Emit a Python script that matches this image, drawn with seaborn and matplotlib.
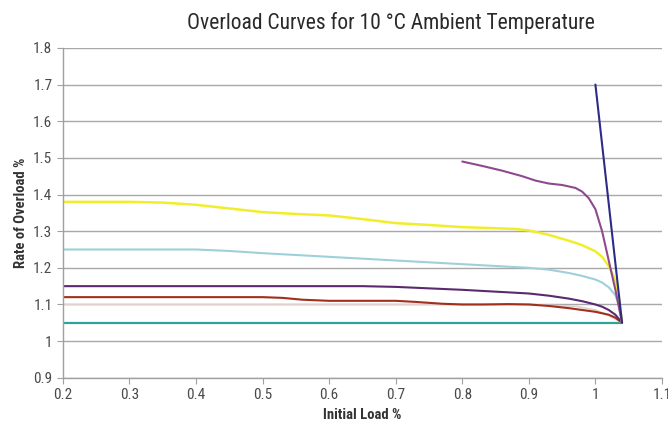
import numpy as np
import pandas as pd
import matplotlib
matplotlib.use("Agg")
import matplotlib.pyplot as plt
import seaborn as sns

# curve values (x = initial load, y = rate of overload)
teal_x = [0.2, 0.4, 0.6, 0.8, 1.0, 1.04]
teal_y = [1.05, 1.05, 1.05, 1.05, 1.05, 1.05]

grey_x = [0.2, 0.4, 0.6, 0.8, 0.9, 0.97, 1.0, 1.02, 1.04]
grey_y = [1.10, 1.10, 1.10, 1.10, 1.10, 1.095, 1.085, 1.07, 1.05]

red_x = [0.2, 0.3, 0.4, 0.5, 0.53, 0.56, 0.6, 0.65, 0.7, 0.73, 0.77, 0.8, 0.83, 0.87, 0.9,
         0.93, 0.96, 0.98, 1.0, 1.02, 1.03, 1.04]
red_y = [1.12, 1.12, 1.12, 1.12, 1.118, 1.113, 1.11, 1.11, 1.11, 1.107, 1.102, 1.10, 1.10,
         1.101, 1.10, 1.096, 1.09, 1.085, 1.08, 1.072, 1.064, 1.05]

purple_x = [0.2, 0.3, 0.4, 0.5, 0.6, 0.65, 0.7, 0.75, 0.8, 0.85, 0.9, 0.93, 0.96, 0.98,
            1.0, 1.01, 1.02, 1.03, 1.04]
purple_y = [1.15, 1.15, 1.15, 1.15, 1.15, 1.15, 1.148, 1.144, 1.14, 1.135, 1.13, 1.124,
            1.116, 1.109, 1.10, 1.094, 1.085, 1.072, 1.05]

blue_x = [0.2, 0.3, 0.4, 0.45, 0.5, 0.6, 0.7, 0.8, 0.85, 0.9, 0.93, 0.96, 0.98, 1.0,
          1.01, 1.02, 1.03, 1.035, 1.04]
blue_y = [1.25, 1.25, 1.25, 1.246, 1.24, 1.23, 1.22, 1.21, 1.205, 1.20, 1.195, 1.186,
          1.178, 1.168, 1.16, 1.147, 1.125, 1.10, 1.05]

yellow_x = [0.2, 0.3, 0.35, 0.4, 0.45, 0.5, 0.55, 0.6, 0.65, 0.7, 0.75, 0.8, 0.85, 0.88,
            0.9, 0.93, 0.96, 0.98, 1.0, 1.01, 1.02, 1.03, 1.035, 1.04]
yellow_y = [1.38, 1.38, 1.378, 1.372, 1.362, 1.352, 1.347, 1.343, 1.333, 1.322, 1.317,
            1.311, 1.308, 1.306, 1.302, 1.29, 1.274, 1.262, 1.245, 1.23, 1.205, 1.165,
            1.12, 1.05]

magenta_x = [0.8, 0.83, 0.86, 0.89, 0.91, 0.93, 0.95, 0.97, 0.98, 0.99, 1.0, 1.01,
             1.02, 1.03, 1.04]
magenta_y = [1.49, 1.478, 1.465, 1.45, 1.438, 1.43, 1.426, 1.418, 1.408, 1.39, 1.36,
             1.30, 1.22, 1.14, 1.05]

navy_x = [1.0, 1.04]
navy_y = [1.70, 1.05]

series = [
    ("teal", teal_x, teal_y, "#2fa39a", 1.6),
    ("grey", grey_x, grey_y, "#e2cfcf", 1.2),
    ("red", red_x, red_y, "#a0301e", 1.5),
    ("purple", purple_x, purple_y, "#5b2a6e", 1.5),
    ("blue", blue_x, blue_y, "#9fd0da", 1.5),
    ("yellow", yellow_x, yellow_y, "#f0ee2a", 1.8),
    ("magenta", magenta_x, magenta_y, "#8e4a8e", 1.5),
    ("navy", navy_x, navy_y, "#2c2c86", 1.5),
]

sns.set_style("white")
plt.rcParams["font.family"] = ["Liberation Sans Narrow", "Roboto Condensed", "DejaVu Sans"]

fig = plt.figure(figsize=(6.68, 4.24), dpi=100)
ax = fig.add_axes([0.094, 0.109, 0.897, 0.778])

for name, xs, ys, color, lw in series:
    df = pd.DataFrame({"x": xs, "y": ys})
    sns.lineplot(data=df, x="x", y="y", ax=ax, color=color, linewidth=lw, sort=False)

ax.set_xlim(0.2, 1.1)
ax.set_ylim(0.9, 1.8)
xt = [0.2, 0.3, 0.4, 0.5, 0.6, 0.7, 0.8, 0.9, 1.0, 1.1]
yt = [0.9, 1.0, 1.1, 1.2, 1.3, 1.4, 1.5, 1.6, 1.7, 1.8]
ax.set_xticks(xt)
ax.set_xticklabels(["0.2", "0.3", "0.4", "0.5", "0.6", "0.7", "0.8", "0.9", "1", "1.1"])
ax.set_yticks(yt)
ax.set_yticklabels(["0.9", "1", "1.1", "1.2", "1.3", "1.4", "1.5", "1.6", "1.7", "1.8"])
ax.yaxis.grid(True, color="#a8a8a8", linewidth=1.0)
ax.xaxis.grid(False)
ax.set_axisbelow(True)
for s in ["top", "right"]:
    ax.spines[s].set_visible(False)
for s in ["left", "bottom"]:
    ax.spines[s].set_color("#a0a0a0")
    ax.spines[s].set_linewidth(1.0)
ax.tick_params(axis="both", which="major", length=4, color="#a0a0a0",
               labelsize=11, labelcolor="#4a4a4a", direction="out")
ax.tick_params(axis="both", bottom=True, left=True)

ax.set_xlabel("Initial Load %", fontsize=10.5, color="#333333", fontweight="bold")
ax.set_ylabel("Rate of Overload %", fontsize=10.5, color="#333333", fontweight="bold")
fig.text(0.585, 0.945, "Overload Curves for 10 \u00b0C Ambient Temperature",
         ha="center", va="center", fontsize=15.5, color="#2a2a2a")

fig.savefig("out.png", dpi=100)
